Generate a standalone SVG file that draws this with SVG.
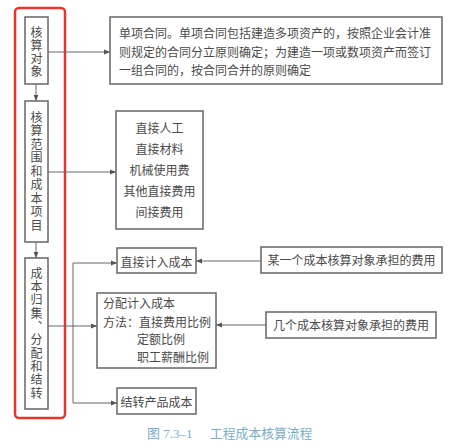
<svg xmlns="http://www.w3.org/2000/svg" width="460" height="447" viewBox="0 0 460 447">
<defs>
<marker id="arr" viewBox="0 0 6 6" refX="6" refY="3" markerWidth="6" markerHeight="6" markerUnits="userSpaceOnUse" orient="auto">
<path d="M0,0.6 L6,3 L0,5.4 Z" fill="#555"/>
</marker>
<style>
.box{fill:#fff;stroke:#666;stroke-width:1.5}
.t{font-family:"Noto Sans CJK SC","Noto Sans",sans-serif;font-size:12px;fill:#4a4a4a}
.vt{writing-mode:vertical-rl;text-orientation:upright}
.c{text-anchor:middle}
.ln{fill:none;stroke:#666;stroke-width:1}
</style>
</defs>
<rect width="460" height="447" fill="#fff"/>
<rect x="15" y="8" width="50" height="410" rx="4" fill="none" stroke="#e8342c" stroke-width="2.5"/>

<g id="connectors">
<line class="ln" x1="36" y1="84" x2="36" y2="101" marker-end="url(#arr)"/>
<line class="ln" x1="36" y1="242" x2="36" y2="258" marker-end="url(#arr)"/>
<line class="ln" x1="48" y1="52" x2="110" y2="52" marker-end="url(#arr)"/>
<line class="ln" x1="48" y1="172" x2="116" y2="172" marker-end="url(#arr)"/>
<line class="ln" x1="48" y1="326" x2="97" y2="326" marker-end="url(#arr)"/>
<polyline class="ln" points="73,326 73,263 117,263" marker-end="url(#arr)"/>
<polyline class="ln" points="73,326 73,403 117,403" marker-end="url(#arr)"/>
<line class="ln" x1="261" y1="261" x2="196" y2="261" marker-end="url(#arr)"/>
<line class="ln" x1="266" y1="325" x2="216" y2="325" marker-end="url(#arr)"/>
</g>

<g id="n1">
<rect class="box" x="25" y="17" width="23" height="67"/>
<text class="t vt" x="36.5" y="26" style="letter-spacing:1px">核算对象</text>
</g>
<g id="n2">
<rect class="box" x="25" y="101" width="23" height="141"/>
<text class="t vt" x="36.5" y="111" style="letter-spacing:1.5px">核算范围和成本项目</text>
</g>
<g id="n3">
<rect class="box" x="25" y="258" width="23" height="151"/>
<text class="t vt" x="36.5" y="267" style="letter-spacing:1.33px">成本归集、分配和结转</text>
</g>

<g id="n4">
<rect class="box" x="110" y="17" width="332" height="67"/>
<text class="t"><tspan x="119" y="37.5">单项合同。单项合同包括建造多项资产的，按照企业会计准</tspan><tspan x="119" y="56.5">则规定的合同分立原则确定；为建造一项或数项资产而签订</tspan><tspan x="119" y="74.5">一组合同的，按合同合并的原则确定</tspan></text>
</g>
<g id="n5">
<rect class="box" x="116" y="111" width="87" height="118"/>
<text class="t c"><tspan x="159.5" y="132.5">直接人工</tspan><tspan x="159.5" y="154">直接材料</tspan><tspan x="159.5" y="175">机械使用费</tspan><tspan x="159.5" y="196">其他直接费用</tspan><tspan x="159.5" y="217">间接费用</tspan></text>
</g>
<g id="n6">
<rect class="box" x="117" y="248" width="79" height="25"/>
<text class="t c" x="156.5" y="266.5">直接计入成本</text>
</g>
<g id="n7">
<rect class="box" x="97" y="293" width="119" height="75"/>
<text class="t"><tspan x="103" y="307.5">分配计入成本</tspan><tspan x="103" y="326.5">方法：直接费用比例</tspan><tspan x="137" y="343.5">定额比例</tspan><tspan x="137" y="361.5">职工薪酬比例</tspan></text>
</g>
<g id="n8">
<rect class="box" x="117" y="388" width="79" height="26"/>
<text class="t c" x="156.5" y="406.5">结转产品成本</text>
</g>
<g id="n9">
<rect class="box" x="261" y="247" width="181" height="26"/>
<text class="t c" x="351.5" y="265">某一个成本核算对象承担的费用</text>
</g>
<g id="n10">
<rect class="box" x="266" y="312" width="170" height="26"/>
<text class="t c" x="351" y="329.5">几个成本核算对象承担的费用</text>
</g>

<text y="438" style="font-family:'Noto Sans CJK SC',sans-serif;fill:#7aaec6"><tspan x="147" style="font-family:'Liberation Serif','Noto Sans CJK SC',serif;font-size:13px">图 7.3–1</tspan><tspan x="210" style="font-size:12.8px">工程成本核算流程</tspan></text>
</svg>
